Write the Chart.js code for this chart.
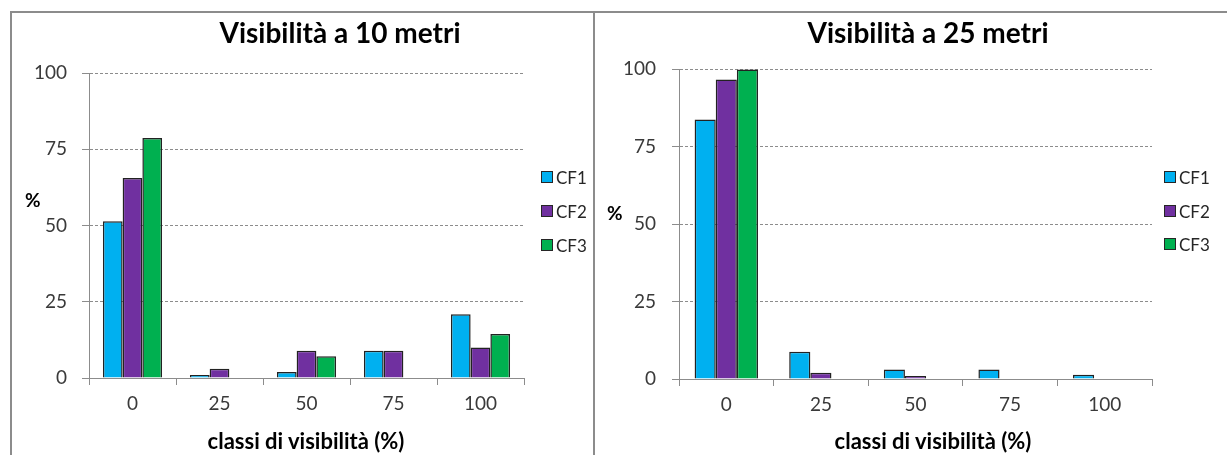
<!DOCTYPE html>
<html lang="it">
<head>
<meta charset="utf-8">
<title>Visibilità a 10 e 25 metri</title>
<script src="https://cdn.jsdelivr.net/npm/chart.js@4.4.1/dist/chart.umd.min.js"></script>
<style>
  html, body { margin: 0; padding: 0; background: #ffffff; }
  body { width: 1227px; height: 455px; position: relative; overflow: hidden; font-family: Lato, "Open Sans", sans-serif; }
  .rule { position: absolute; background: #8c8c8c; }
  .panel { position: absolute; }
  .panel canvas { display: block; }
  .txt { position: absolute; white-space: nowrap; line-height: 1; color: #000; }
  .title { font-weight: bold; font-size: 28px; transform: translateX(-50%); }
  .xtitle { font-weight: bold; font-size: 22px; transform: translateX(-50%); }
  .pct { font-weight: bold; font-size: 19px; }
  .leg { position: absolute; height: 18px; display: flex; align-items: center; font-size: 17px; color: #262626; white-space: nowrap; }
  .leg .sw { width: 12px; height: 12px; box-sizing: border-box; border: 1px solid #262626; margin-right: 3px; }
</style>
</head>
<body>

<!-- panel frame -->
<div class="rule" style="left:10px; top:11px; width:1217px; height:2px;"></div>
<div class="rule" style="left:10px; top:11px; width:2px; height:444px;"></div>
<div class="rule" style="left:593px; top:11px; width:2px; height:444px;"></div>

<div class="panel" style="left:12px; top:13px;"><canvas id="chart10" width="581" height="442"></canvas></div>
<div class="panel" style="left:596px; top:13px;"><canvas id="chart25" width="631" height="442"></canvas></div>

<div class="txt title" style="left:340px; top:18px;">Visibilità a 10 metri</div>
<div class="txt title" style="left:928px; top:18px;">Visibilità a 25 metri</div>
<div class="txt pct" style="left:25px; top:190px;">%</div>
<div class="txt pct" style="left:607px; top:203px;">%</div>
<div class="txt xtitle" style="left:306px; top:430px;">classi di visibilità (%)</div>
<div class="txt xtitle" style="left:933px; top:430px;">classi di visibilità (%)</div>

<div id="legend10"></div>
<div id="legend25"></div>

<script>
// visibility classes (x axis) and the percentage axis ticks
const categories = ['0', '25', '50', '75', '100'];
const yTicks = [0, 25, 50, 75, 100];

// series names and fills
const seriesNames = ['CF1', 'CF2', 'CF3'];
const seriesColors = ['#00B0F0', '#7030A0', '#00B050'];

// % of observations per visibility class, visibility at 10 m
const cf1At10m = [51.4, 1.0, 2.0, 8.9, 20.9];
const cf2At10m = [65.6, 3.0, 8.9, 8.9, 10.0];
const cf3At10m = [78.7, 0, 7.1, 0, 14.4];

// % of observations per visibility class, visibility at 25 m
const cf1At25m = [83.7, 8.8, 3.1, 3.1, 1.4];
const cf2At25m = [96.6, 2.0, 1.0, 0, 0];
const cf3At25m = [99.8, 0, 0, 0, 0];

const AXIS_GREY = '#8c8c8c';
const TICK_FONT = { family: 'Lato', size: 19 };

function buildChart(canvasId, series, box) {
  return new Chart(document.getElementById(canvasId), {
    type: 'bar',
    data: {
      labels: categories,
      datasets: series.map((values, i) => ({
        label: seriesNames[i],
        data: values,
        backgroundColor: seriesColors[i],
        borderColor: '#222222',
        borderWidth: 1.5,
        categoryPercentage: box.catPct,
        barPercentage: 1
      }))
    },
    options: {
      responsive: false,
      animation: false,
      devicePixelRatio: 1,
      layout: { padding: { top: box.padTop, right: box.padRight, left: 0, bottom: 0 } },
      plugins: {
        legend: { display: false },
        title: { display: false },
        tooltip: { enabled: false }
      },
      scales: {
        x: {
          grid: { display: true, drawOnChartArea: false, drawTicks: true, tickLength: 7, tickColor: AXIS_GREY, offset: true },
          border: { display: true, color: AXIS_GREY, width: 1 },
          ticks: { font: TICK_FONT, color: '#3a3a3a', padding: 7, maxRotation: 0 },
          afterFit(scale) { scale.height = box.xHeight; }
        },
        y: {
          min: yTicks[0],
          max: yTicks[yTicks.length - 1],
          ticks: { stepSize: yTicks[1] - yTicks[0], font: TICK_FONT, color: '#3a3a3a', padding: box.yPad },
          grid: { color: AXIS_GREY, lineWidth: 1, tickLength: 7, tickColor: AXIS_GREY },
          border: { display: true, color: AXIS_GREY, width: 1, dash: [3, 2] },
          afterFit(scale) { scale.width = box.yWidth; }
        }
      }
    }
  });
}

function buildLegend(containerId, x, yCenters) {
  const host = document.getElementById(containerId);
  seriesNames.forEach((name, i) => {
    const row = document.createElement('div');
    row.className = 'leg';
    row.style.left = x + 'px';
    row.style.top = (yCenters[i] - 9) + 'px';
    const sw = document.createElement('span');
    sw.className = 'sw';
    sw.style.background = seriesColors[i];
    const label = document.createElement('span');
    label.textContent = name;
    row.appendChild(sw);
    row.appendChild(label);
    host.appendChild(row);
  });
}

buildChart('chart10', [cf1At10m, cf2At10m, cf3At10m],
  { padTop: 60, padRight: 69, yWidth: 77, xHeight: 77, yPad: 15, catPct: 0.68 });
buildChart('chart25', [cf1At25m, cf2At25m, cf3At25m],
  { padTop: 56, padRight: 75, yWidth: 83, xHeight: 76, yPad: 16, catPct: 0.67 });

buildLegend('legend10', 541, [177, 211, 245]);
buildLegend('legend25', 1164, [177, 211, 244]);
</script>
</body>
</html>
